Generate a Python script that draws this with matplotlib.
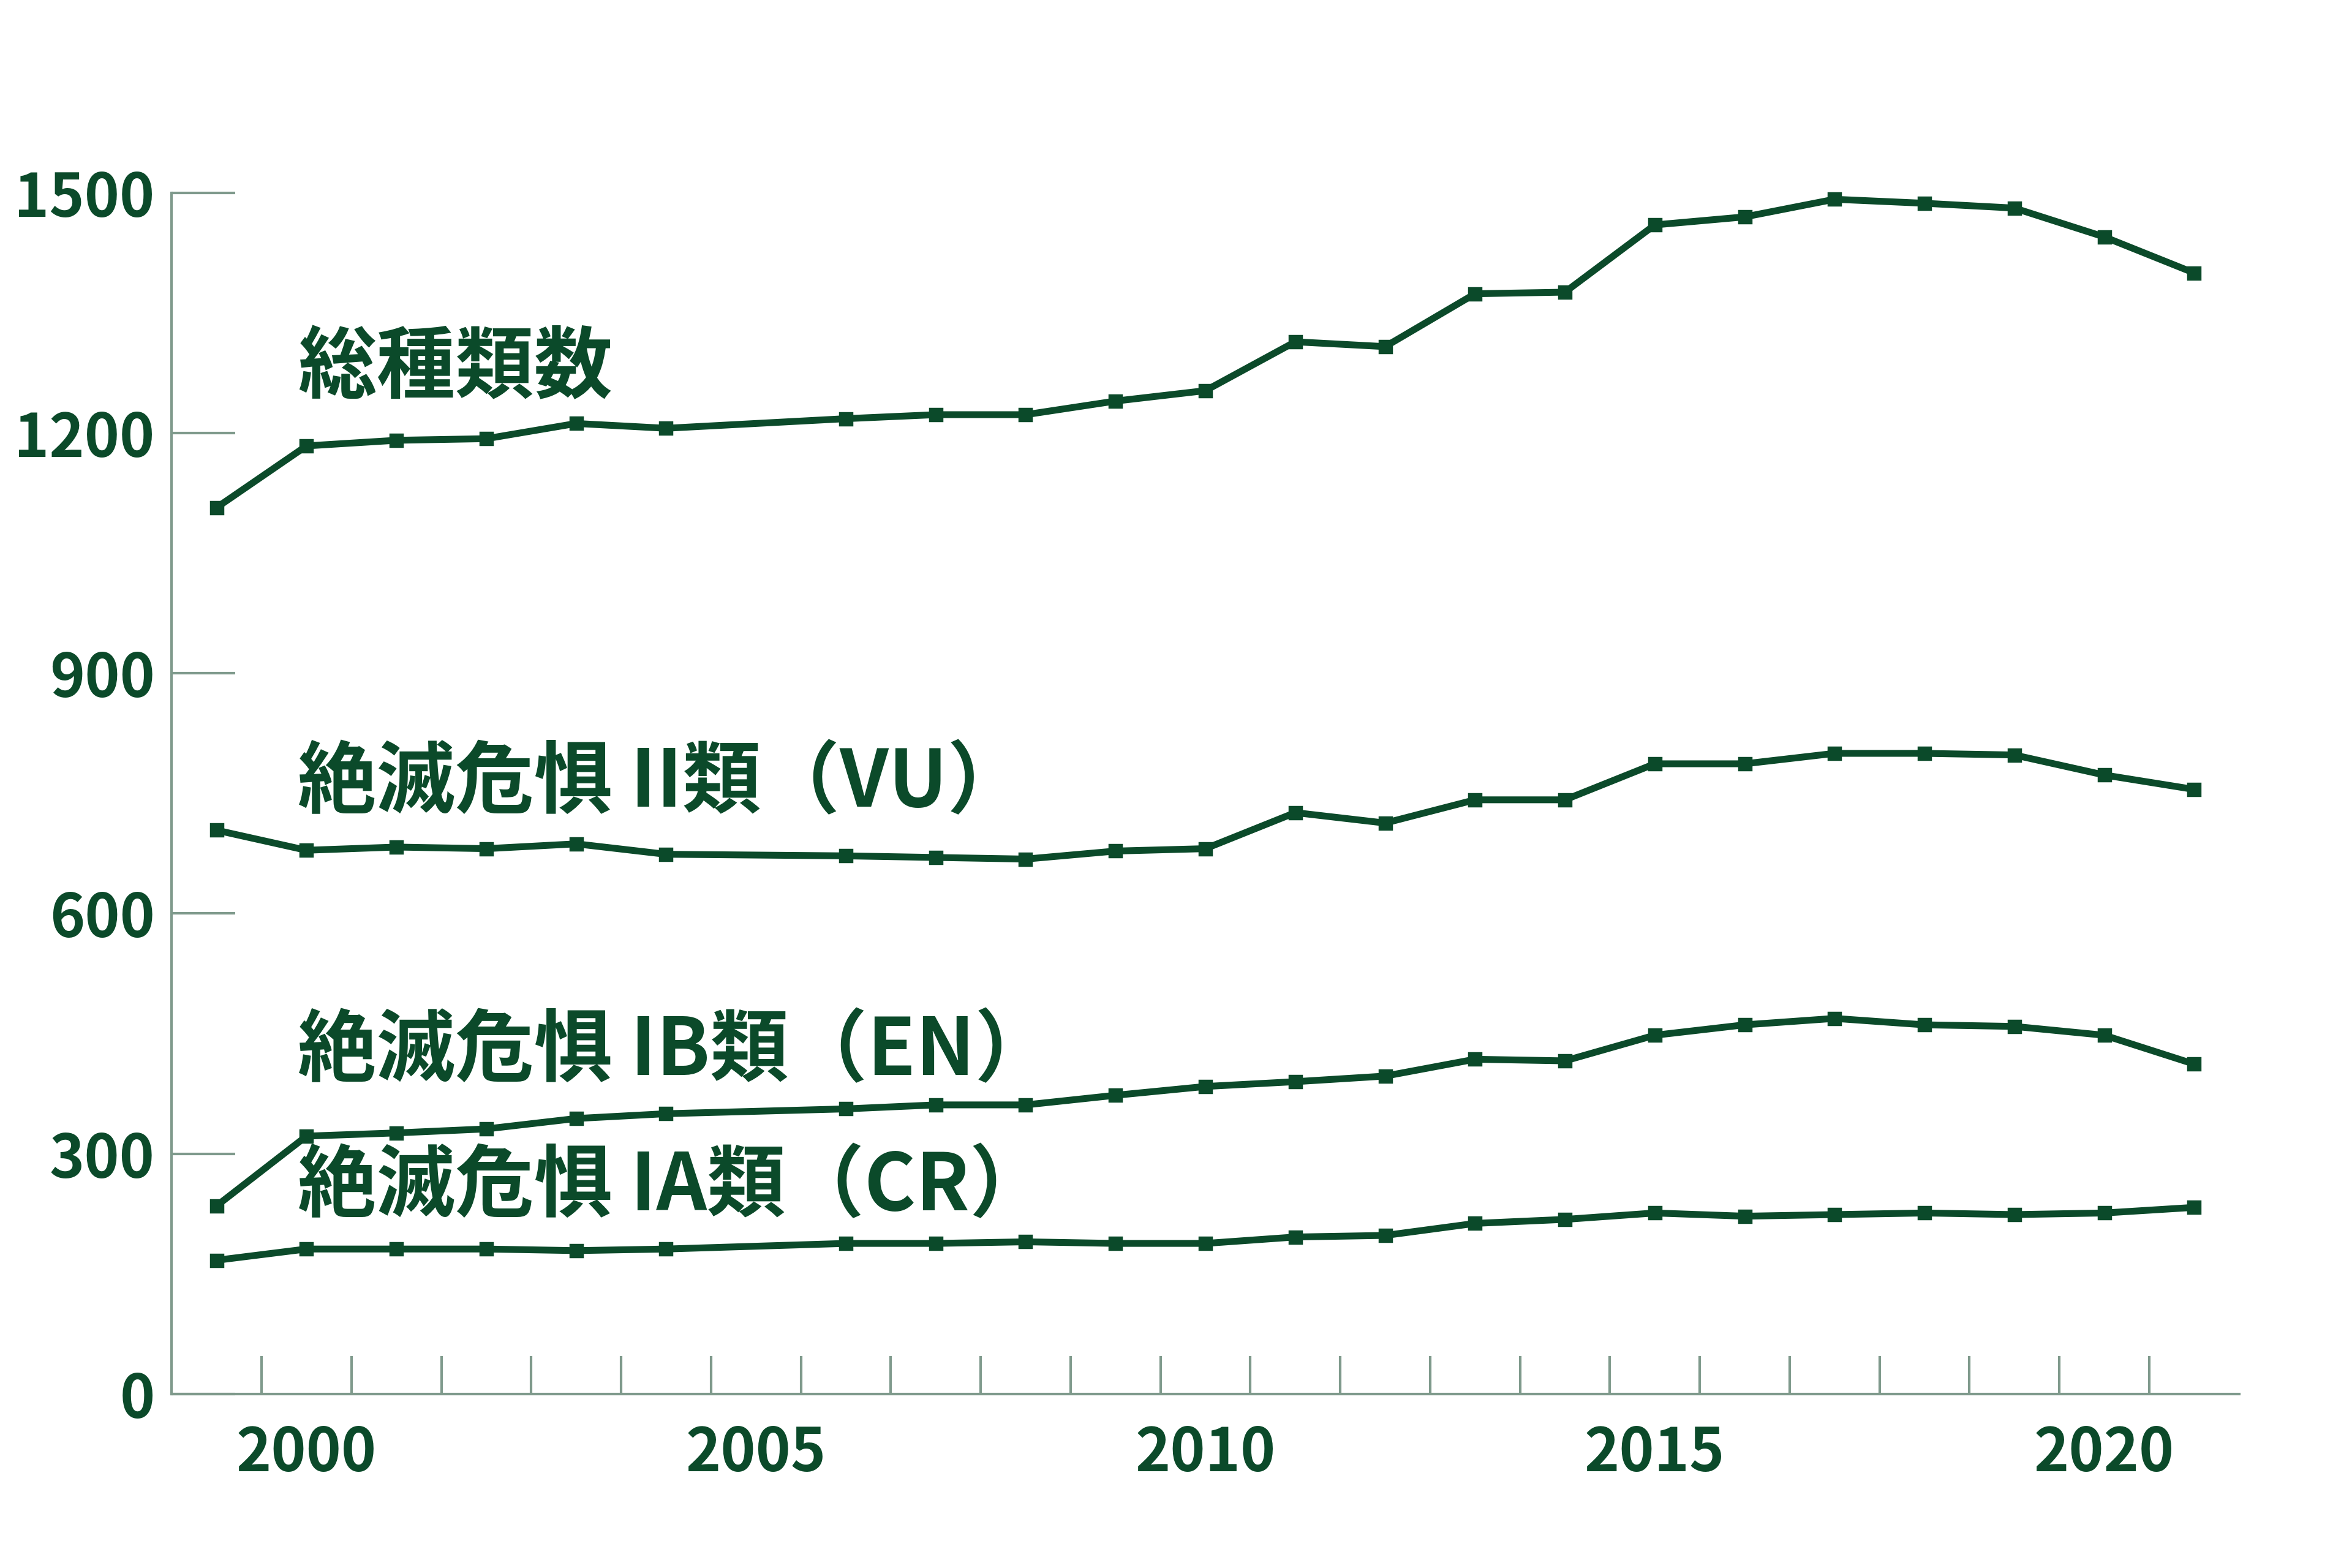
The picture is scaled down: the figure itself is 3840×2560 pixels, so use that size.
import matplotlib.pyplot as plt

plt.rcParams['font.family'] = ['Noto Sans CJK JP', 'DejaVu Sans']

GREEN = "#0b4a2a"
GRAY = "#7f9a8c"

years = [1999, 2000, 2001, 2002, 2003, 2004, 2006, 2007, 2008, 2009, 2010,
         2011, 2012, 2013, 2014, 2015, 2016, 2017, 2018, 2019, 2020, 2021]
total = [1107, 1184, 1191, 1193, 1212, 1206, 1218, 1223, 1223, 1240, 1253,
         1314, 1308, 1374, 1376, 1460, 1470, 1492, 1487, 1481, 1445, 1400]
vu = [704, 679, 683, 681, 687, 674, 672, 670, 668, 678, 681,
      726, 713, 742, 742, 787, 787, 800, 800, 798, 773, 755]
en = [235, 322, 326, 331, 344, 350, 356, 361, 361, 373, 384,
      390, 397, 418, 416, 448, 461, 469, 461, 459, 448, 412]
cr = [167, 181, 181, 181, 179, 181, 188, 188, 190, 188, 188,
      196, 198, 213, 218, 226, 222, 224, 226, 224, 226, 233]

series = [
    (total, "総種類数", 1280),
    (vu, "絶滅危惧 II類（VU）", 762),
    (en, "絶滅危惧 IB類（EN）", 427),
    (cr, "絶滅危惧 IA類（CR）", 258),
]

fig = plt.figure(figsize=(15.36, 10.24), dpi=250)
ax = fig.add_axes([0.073, 0.111, 0.879, 0.766])

for values, label, label_y in series:
    ax.plot(years, values, color=GREEN, linewidth=3.2, marker="s", markersize=6,
            clip_on=False)
    ax.text(1999.9, label_y, label, color=GREEN, fontsize=37, fontweight="bold",
            va="center", ha="left")

ax.set_xlim(1998.5, 2021.5)
ax.set_ylim(0, 1500)
ax.set_yticks([0, 300, 600, 900, 1200, 1500])
ax.set_xticks([1999.5 + i for i in range(22)])
ax.set_xticks([2000, 2005, 2010, 2015, 2020], minor=True)
ax.set_xticklabels([])
ax.set_xticklabels(["2000", "2005", "2010", "2015", "2020"], minor=True)
ax.tick_params(axis="x", which="major", direction="in", length=18, width=1.2,
               color=GRAY)
ax.tick_params(axis="x", which="minor", length=0, pad=14, labelsize=28,
               labelcolor=GREEN)
ax.tick_params(axis="y", direction="in", length=30, width=1.2, color=GRAY,
               labelsize=28, labelcolor=GREEN, pad=8)
for lab in ax.get_yticklabels() + ax.get_xticklabels(minor=True):
    lab.set_fontweight("bold")

for side in ("top", "right"):
    ax.spines[side].set_visible(False)
for side in ("left", "bottom"):
    ax.spines[side].set_color(GRAY)
    ax.spines[side].set_linewidth(1.2)

fig.savefig("out.png", dpi=250)
plt.close(fig)
